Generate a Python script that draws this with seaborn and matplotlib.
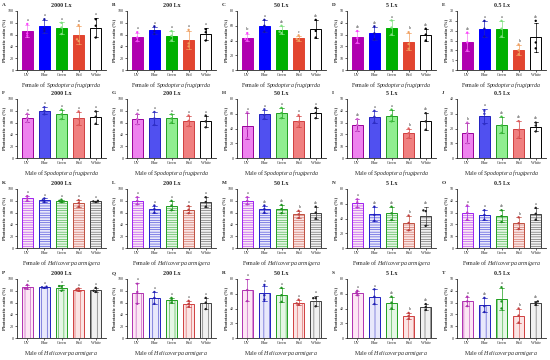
import matplotlib
matplotlib.use("Agg")
import matplotlib.pyplot as plt
import numpy as np
import pandas as pd
import seaborn as sns

# light colours and panel titles
colors = ["UV", "Blue", "Green", "Red", "White"]
titles = ["2000 Lx", "200 Lx", "50 Lx", "5 Lx", "0.5 Lx"]
xlabels = ["Female of $\\it{Spodoptera\\ frugiperda}$",
           "Male of $\\it{Spodoptera\\ frugiperda}$",
           "Female of $\\it{Helicoverpa\\ armigera}$",
           "Male of $\\it{Helicoverpa\\ armigera}$"]
panel_ids = "ABCDEFGHIJKLMNOPQRST"

# three replicates per light colour, per panel (phototactic ratio, %)
pts_A = [[78, 62, 58], [86, 70, 66], [80, 72, 61], [76, 52, 49], [86, 75, 55]]
pts_B = [[64, 55, 49], [74, 66, 61], [66, 58, 50], [68, 45, 40], [69, 64, 50]]
pts_C = [[50, 42, 40], [68, 60, 52], [60, 52, 50], [47, 42, 40], [68, 53, 44]]
pts_D = [[33, 27, 23], [37, 31, 26], [42, 36, 30], [32, 22, 18], [35, 30, 25]]
pts_E = [[19, 14, 10], [25, 21, 17], [25, 21, 17], [13, 10, 8], [25, 14, 11]]
pts_F = [[75, 68, 61], [86, 80, 74], [82, 74, 66], [79, 66, 56], [79, 70, 58]]
pts_G = [[75, 66, 57], [78, 67, 56], [74, 67, 60], [72, 63, 54], [72, 62, 52]]
pts_H = [[62, 40, 27], [66, 58, 53], [68, 61, 54], [58, 49, 43], [68, 61, 54]]
pts_I = [[33, 28, 23], [40, 35, 30], [41, 36, 31], [25, 21, 17], [38, 31, 24]]
pts_J = [[24, 17, 10], [32, 30, 23], [28, 22, 17], [25, 19, 14], [24, 22, 18]]
pts_K = [[88, 84, 80], [84, 81, 78], [82, 80, 78], [81, 76, 70], [80, 79, 78]]
pts_L = [[86, 80, 74], [72, 66, 60], [80, 72, 64], [71, 65, 59], [86, 78, 70]]
pts_M = [[86, 80, 74], [72, 66, 60], [73, 66, 59], [63, 57, 51], [70, 60, 50]]
pts_N = [[66, 62, 55], [56, 45, 37], [56, 47, 38], [44, 34, 24], [51, 50, 30]]
pts_O = [[36, 30, 24], [32, 28, 24], [32, 27, 22], [26, 21, 16], [34, 29, 24]]
pts_P = [[90, 84, 84], [87, 86, 85], [88, 87, 80], [84, 82, 80], [85, 80, 78]]
pts_Q = [[92, 78, 58], [78, 68, 58], [68, 64, 60], [63, 58, 53], [68, 60, 49]]
pts_R = [[80, 65, 50], [72, 58, 52], [68, 58, 49], [52, 47, 45], [54, 54, 43]]
pts_S = [[64, 61, 58], [66, 56, 46], [56, 48, 40], [34, 30, 26], [46, 42, 38]]
pts_T = [[35, 31, 27], [34, 27, 22], [43, 31, 25], [25, 19, 13], [31, 30, 28]]

# significance letters
let_A = ["a", "a", "a", "a", "a"]
let_B = ["a", "a", "a", "a", "a"]
let_C = ["bc", "a", "ab", "c", "ab"]
let_D = ["ab", "ab", "a", "b", "ab"]
let_E = ["ab", "a", "a", "b", "ab"]
let_F = ["a", "a", "a", "a", "a"]
let_G = ["a", "a", "a", "a", "a"]
let_H = ["a", "a", "a", "a", "a"]
let_I = ["ab", "a", "a", "b", "ab"]
let_J = ["b", "a", "ab", "ab", "ab"]
let_K = ["a", "a", "a", "a", "a"]
let_L = ["a", "a", "a", "a", "a"]
let_M = ["a", "ab", "ab", "b", "ab"]
let_N = ["a", "ab", "ab", "b", "ab"]
let_O = ["a", "a", "ab", "b", "a"]
let_P = ["a", "a", "a", "a", "a"]
let_Q = ["a", "a", "a", "a", "a"]
let_R = ["a", "a", "a", "a", "a"]
let_S = ["a", "a", "ab", "b", "ab"]
let_T = ["a", "ab", "a", "b", "ab"]

# y axis tops
ymax = [100, 100, 80, 50, 30,
        100, 100, 80, 50, 40,
        100, 100, 100, 80, 50,
        100, 100, 80, 80, 50]

all_pts = [pts_A, pts_B, pts_C, pts_D, pts_E, pts_F, pts_G, pts_H, pts_I, pts_J,
           pts_K, pts_L, pts_M, pts_N, pts_O, pts_P, pts_Q, pts_R, pts_S, pts_T]
all_let = [let_A, let_B, let_C, let_D, let_E, let_F, let_G, let_H, let_I, let_J,
           let_K, let_L, let_M, let_N, let_O, let_P, let_Q, let_R, let_S, let_T]

# row styles: face, edge, error bars, dots, hatch
face = [["#b000b0", "#0000ff", "#00b000", "#e2452f", "#ffffff"],
        ["#ee82ee", "#5050f0", "#90ee90", "#f08080", "#ffffff"],
        ["#fde6f4", "#e8e8fb", "#e6f6e6", "#fbe4e4", "#f0f0f0"],
        ["#fde6f4", "#e8e8fb", "#e6f6e6", "#fbe4e4", "#f0f0f0"]]
edge = [["#b000b0", "#0000ff", "#00b000", "#e2452f", "#000000"],
        ["#9a009a", "#2020c0", "#20a020", "#d04040", "#000000"],
        ["#a020f0", "#2020d0", "#20a020", "#c05040", "#404040"],
        ["#b030b0", "#2020c0", "#20a020", "#d04040", "#404040"]]
errc = [["#f080f0", "#2020c0", "#80e080", "#f0a060", "#000000"],
        ["#9a009a", "#2020c0", "#20a020", "#d04040", "#000000"],
        ["#a020f0", "#2020d0", "#20a020", "#c05040", "#404040"],
        ["#b030b0", "#2020c0", "#20a020", "#d04040", "#404040"]]
dots = [["#ff40ff", "#1010a0", "#80e080", "#f0a060", "#000000"],
        ["#d060d0", "#3030c0", "#40c040", "#e06060", "#202020"],
        ["#c040c0", "#2020b0", "#209020", "#c04040", "#202020"],
        ["#b030b0", "#2020b0", "#209020", "#c04040", "#202020"]]
hatch = [None, None, "-------", "|||"]

sns.set_style("ticks")
plt.rcParams["font.family"] = ["Liberation Serif", "DejaVu Serif"]
plt.rcParams["mathtext.fontset"] = "custom"
plt.rcParams["mathtext.rm"] = "Liberation Serif"
plt.rcParams["mathtext.it"] = "Liberation Serif:italic"
plt.rcParams["hatch.linewidth"] = 0.35

W, H = 550, 360
row_y = [0, 88, 178, 268]
fig = plt.figure(figsize=(5.5, 3.6), dpi=100)

for i in range(20):
    r, c = divmod(i, 5)
    x0, y0 = 110 * c, row_y[r]
    ax = fig.add_axes([(x0 + 17) / W, 1 - (y0 + 70) / H, 89 / W, 59 / H])

    rows = []
    for k, col in enumerate(colors):
        for v in all_pts[i][k]:
            rows.append({"Color": col, "Ratio": v})
    df = pd.DataFrame(rows)

    sns.barplot(data=df, x="Color", y="Ratio", hue="Color", order=colors,
                hue_order=colors, palette=face[r], errorbar="sd", capsize=0.25,
                width=0.65, err_kws={"linewidth": 0.5}, legend=False, ax=ax)
    for k, p in enumerate(ax.patches[:5]):
        p.set_facecolor(face[r][k])
        p.set_edgecolor(edge[r][k])
        p.set_linewidth(0.7)
        if hatch[r]:
            p.set_hatch(hatch[r])
    for ln in ax.lines:
        xd = np.asarray(ln.get_xdata(), dtype=float)
        if np.isfinite(xd).any():
            k = int(round(np.nanmean(xd)))
            ln.set_color(errc[r][min(max(k, 0), 4)])

    sns.swarmplot(data=df, x="Color", y="Ratio", hue="Color", order=colors,
                  hue_order=colors, palette=dots[r], size=1.7, legend=False, ax=ax)

    stats = df.groupby("Color")["Ratio"].agg(["mean", "std", "max"])
    for k, col in enumerate(colors):
        top = max(stats.loc[col, "mean"] + stats.loc[col, "std"], stats.loc[col, "max"])
        ax.text(k, top + ymax[i] * 0.03, all_let[i][k], ha="center", va="bottom",
                fontsize=2.8)

    ax.set_ylim(0, ymax[i])
    ax.set_xlim(-0.6, 4.6)
    ax.set_title(titles[c], fontsize=4.3, fontweight="bold", pad=3)
    ax.set_ylabel("Phototactic ratio (%)", fontsize=3.4, fontweight="bold", labelpad=1)
    ax.set_xlabel(xlabels[r], fontsize=4.2, labelpad=2)
    ax.tick_params(labelsize=3.0, length=1.5, width=0.5, pad=1)
    for s in ["left", "bottom"]:
        ax.spines[s].set_linewidth(0.6)
    sns.despine(ax=ax)
    fig.text((x0 + 2) / W, 1 - (y0 + 5) / H, panel_ids[i], fontsize=3.8,
             fontweight="bold", va="center")

fig.savefig("out.png", dpi=100)
